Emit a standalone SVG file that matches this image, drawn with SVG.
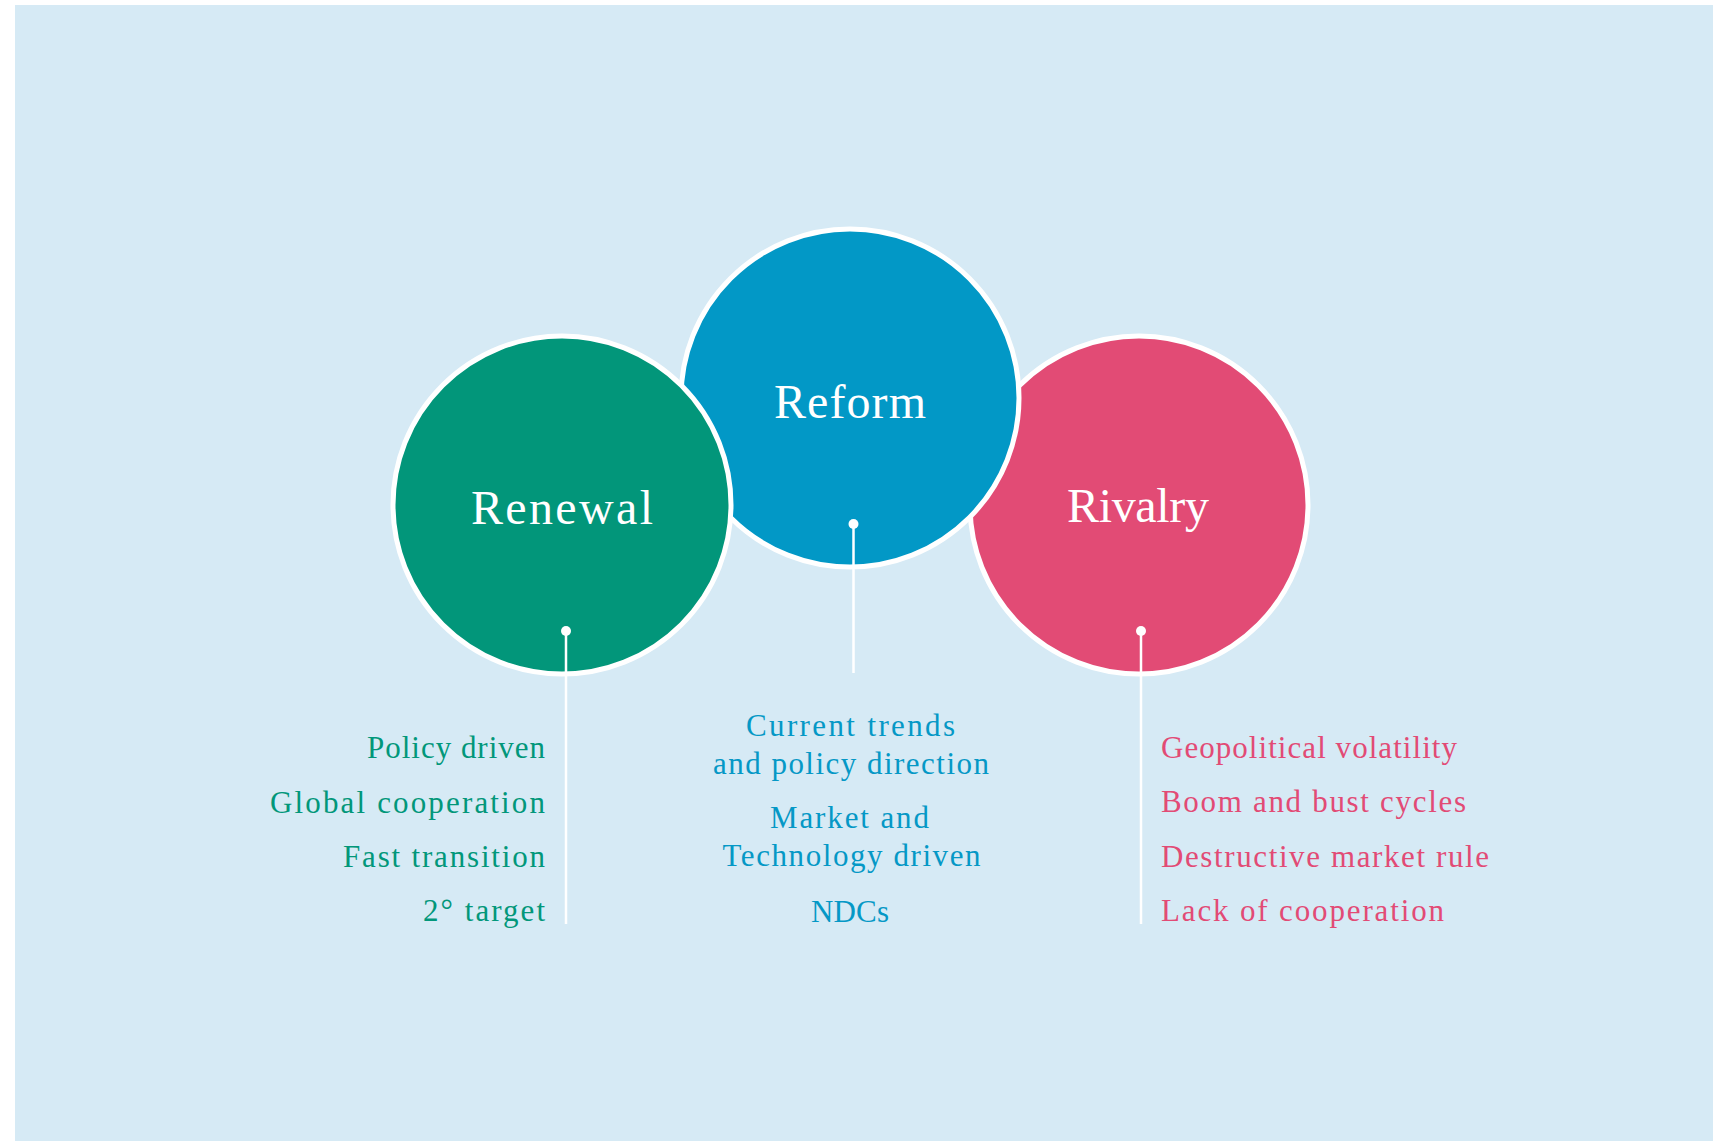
<svg xmlns="http://www.w3.org/2000/svg" width="1718" height="1141" viewBox="0 0 1718 1141">
<style>
.circ{stroke:#ffffff;stroke-width:5}
.title{font-family:"Liberation Serif","Times New Roman",serif;font-size:48px;fill:#ffffff;text-anchor:middle}
.item{font-family:"Liberation Serif","Times New Roman",serif;font-size:31px}
.g{fill:#02977a}
.b{fill:#0598c6}
.p{fill:#e24b75}
.conn{stroke:#ffffff;stroke-width:2.5;fill:none}
</style>
<rect x="0" y="0" width="1718" height="1141" fill="#ffffff"/>
<rect x="15" y="5" width="1698" height="1136" fill="#d6eaf5"/>
<g id="node-rivalry">
<circle class="circ" cx="1139" cy="505" r="169" fill="#e24b75"/>
<text class="title" x="1138" y="522" textLength="142" lengthAdjust="spacing">Rivalry</text>
</g>
<g id="node-reform">
<circle class="circ" cx="850" cy="398" r="169" fill="#0298c6"/>
<text class="title" x="850" y="418" textLength="152" lengthAdjust="spacing">Reform</text>
</g>
<g id="node-renewal">
<circle class="circ" cx="562" cy="505" r="169" fill="#02967a"/>
<text class="title" x="562" y="524" textLength="182" lengthAdjust="spacing">Renewal</text>
</g>
<g id="connectors">
<line class="conn" x1="566" y1="631" x2="566" y2="924"/>
<circle cx="566" cy="631" r="5" fill="#ffffff"/>
<line class="conn" x1="853.5" y1="524" x2="853.5" y2="673"/>
<circle cx="853.5" cy="524" r="5" fill="#ffffff"/>
<line class="conn" x1="1141" y1="631" x2="1141" y2="924"/>
<circle cx="1141" cy="631" r="5" fill="#ffffff"/>
</g>
<g id="renewal-items" class="item g" text-anchor="end">
<text x="545" y="758" textLength="178" lengthAdjust="spacing">Policy driven</text>
<text x="545" y="812.5" textLength="275" lengthAdjust="spacing">Global cooperation</text>
<text x="545" y="866.5" textLength="202" lengthAdjust="spacing">Fast transition</text>
<text x="545" y="921" textLength="122" lengthAdjust="spacing">2° target</text>
</g>
<g id="reform-items" class="item b" text-anchor="middle">
<text x="850.5" y="735.5" textLength="209" lengthAdjust="spacing">Current trends</text>
<text x="851" y="774" textLength="276" lengthAdjust="spacing">and policy direction</text>
<text x="849.5" y="828" textLength="159" lengthAdjust="spacing">Market and</text>
<text x="851.5" y="866" textLength="258" lengthAdjust="spacing">Technology driven</text>
<text x="850" y="921.5" textLength="78" lengthAdjust="spacing">NDCs</text>
</g>
<g id="rivalry-items" class="item p" text-anchor="start">
<text x="1161" y="757.5" textLength="296" lengthAdjust="spacing">Geopolitical volatility</text>
<text x="1161" y="811.5" textLength="305" lengthAdjust="spacing">Boom and bust cycles</text>
<text x="1161" y="866.5" textLength="328" lengthAdjust="spacing">Destructive market rule</text>
<text x="1161" y="921" textLength="283" lengthAdjust="spacing">Lack of cooperation</text>
</g>
</svg>
